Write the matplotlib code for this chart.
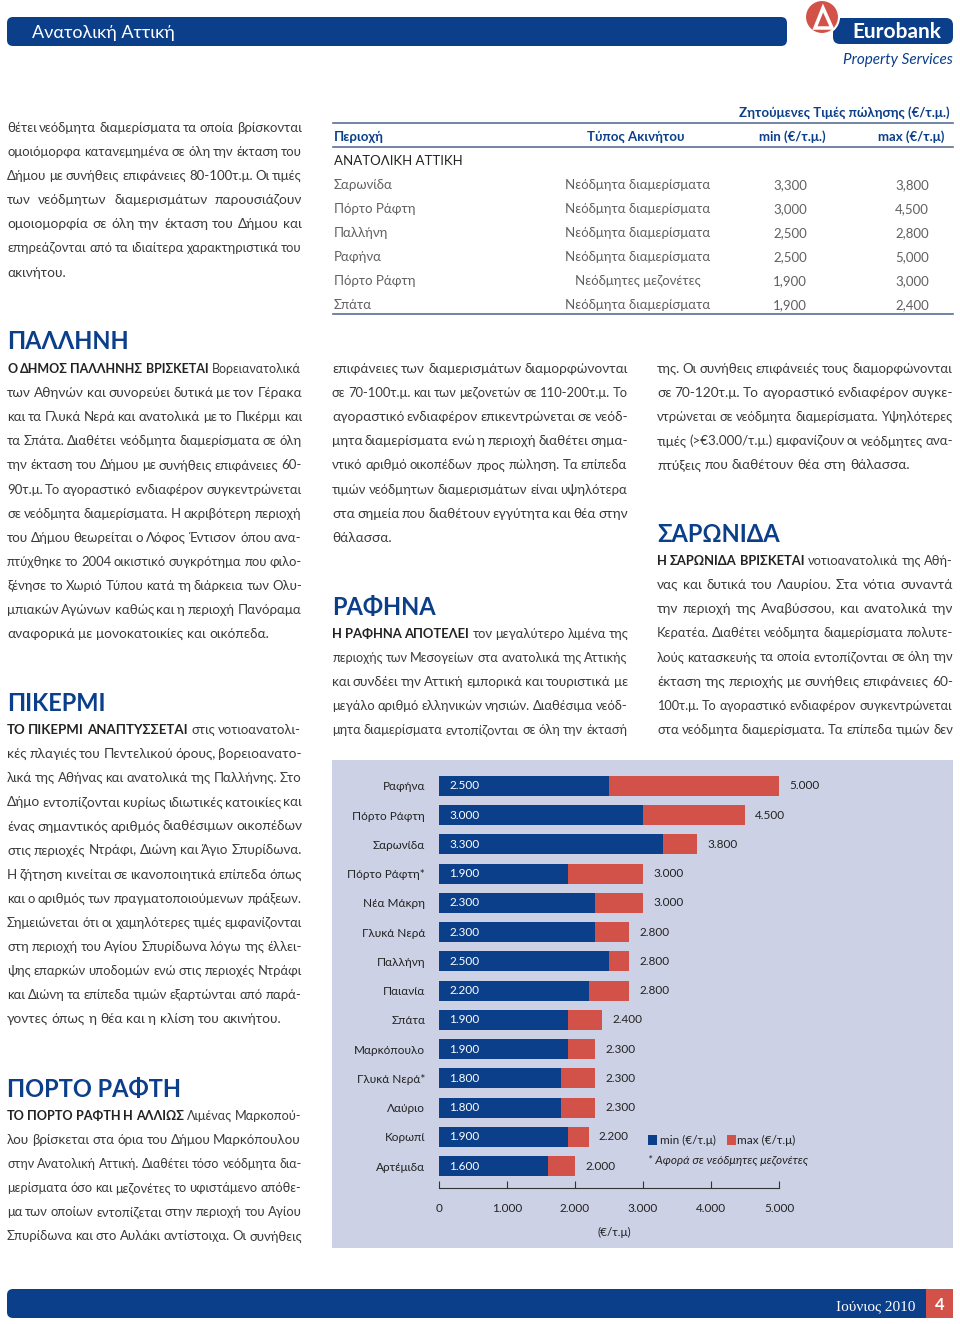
import matplotlib
matplotlib.use("Agg")
import matplotlib.pyplot as plt
from matplotlib.patches import Rectangle, FancyBboxPatch, Circle, Polygon

plt.rcParams["font.family"] = ["Lato", "DejaVu Sans"]

BLUE, RED, BODY, GREY, CHART_BG = "#0b3f8a", "#d2524a", "#3a3a3a", "#606060", "#cdd1e5"
NARROW = ["Liberation Sans Narrow", "Lato", "DejaVu Sans"]

# ---- chart data (top -> bottom) ----
areas = ["Ραφήνα", "Πόρτο Ράφτη", "Σαρωνίδα", "Πόρτο Ράφτη*", "Νέα Μάκρη", "Γλυκά Νερά",
         "Παλλήνη", "Παιανία", "Σπάτα", "Μαρκόπουλο", "Γλυκά Νερά*", "Λαύριο", "Κορωπί", "Αρτέμιδα"]
min_price = [2500, 3000, 3300, 1900, 2300, 2300, 2500, 2200, 1900, 1900, 1800, 1800, 1900, 1600]
max_price = [5000, 4500, 3800, 3000, 3000, 2800, 2800, 2800, 2400, 2300, 2300, 2300, 2200, 2000]
xticks = [0, 1000, 2000, 3000, 4000, 5000]

# ---- table data ----
tab_area = ["Σαρωνίδα", "Πόρτο Ράφτη", "Παλλήνη", "Ραφήνα", "Πόρτο Ράφτη", "Σπάτα"]
tab_type = ["Νεόδμητα διαμερίσματα"] * 4 + ["Νεόδμητες μεζονέτες", "Νεόδμητα διαμερίσματα"]
tab_min = ["3,300", "3,000", "2,500", "2,500", "1,900", "1,900"]
tab_max = ["3,800", "4,500", "2,800", "5,000", "3,000", "2,400"]

# ---- text ----
intro = ["θέτει νεόδμητα διαμερίσματα τα οποία βρίσκονται",
         "ομοιόμορφα κατανεμημένα σε όλη την έκταση του",
         "Δήμου με συνήθεις επιφάνειες 80-100τ.μ. Οι τιμές",
         "των νεόδμητων διαμερισμάτων παρουσιάζουν",
         "ομοιομορφία σε όλη την έκταση του Δήμου και",
         "επηρεάζονται από τα ιδιαίτερα χαρακτηριστικά του",
         "ακινήτου."]
pallini = ["Ο ΔΗΜΟΣ ΠΑΛΛΗΝΗΣ ΒΡΙΣΚΕΤΑΙ Βορειανατολικά",
           "των Αθηνών και συνορεύει δυτικά με τον Γέρακα",
           "και τα Γλυκά Νερά και ανατολικά με το Πικέρμι και",
           "τα Σπάτα. Διαθέτει νεόδμητα διαμερίσματα σε όλη",
           "την έκταση του Δήμου με συνήθεις επιφάνειες 60-",
           "90τ.μ. Το αγοραστικό ενδιαφέρον συγκεντρώνεται",
           "σε νεόδμητα διαμερίσματα. Η ακριβότερη περιοχή",
           "του Δήμου θεωρείται ο Λόφος Έντισον όπου ανα-",
           "πτύχθηκε το 2004 οικιστικό συγκρότημα που φιλο-",
           "ξένησε το Χωριό Τύπου κατά τη διάρκεια των Ολυ-",
           "μπιακών Αγώνων καθώς και η περιοχή Πανόραμα",
           "αναφορικά με μονοκατοικίες και οικόπεδα."]
pikermi = ["ΤΟ ΠΙΚΕΡΜΙ ΑΝΑΠΤΥΣΣΕΤΑΙ στις νοτιοανατολι-",
           "κές πλαγιές του Πεντελικού όρους, βορειοανατο-",
           "λικά της Αθήνας και ανατολικά της Παλλήνης. Στο",
           "Δήμο εντοπίζονται κυρίως ιδιωτικές κατοικίες και",
           "ένας σημαντικός αριθμός διαθέσιμων οικοπέδων",
           "στις περιοχές Ντράφι, Διώνη και Άγιο Σπυρίδωνα.",
           "Η ζήτηση κινείται σε ικανοποιητικά επίπεδα όπως",
           "και ο αριθμός των πραγματοποιούμενων πράξεων.",
           "Σημειώνεται ότι οι χαμηλότερες τιμές εμφανίζονται",
           "στη περιοχή του Αγίου Σπυρίδωνα λόγω της έλλει-",
           "ψης επαρκών υποδομών ενώ στις περιοχές Ντράφι",
           "και Διώνη τα επίπεδα τιμών εξαρτώνται από παρά-",
           "γοντες όπως η θέα και η κλίση του ακινήτου."]
porto = ["ΤΟ ΠΟΡΤΟ ΡΑΦΤΗ Η ΑΛΛΙΩΣ Λιμένας Μαρκοπού-",
         "λου βρίσκεται στα όρια του Δήμου Μαρκόπουλου",
         "στην Ανατολική Αττική. Διαθέτει τόσο νεόδμητα δια-",
         "μερίσματα όσο και μεζονέτες το υφιστάμενο απόθε-",
         "μα των οποίων εντοπίζεται στην περιοχή του Αγίου",
         "Σπυρίδωνα και στο Αυλάκι αντίστοιχα. Οι συνήθεις"]
porto2 = ["επιφάνειες των διαμερισμάτων διαμορφώνονται",
          "σε 70-100τ.μ. και των μεζονετών σε 110-200τ.μ. Το",
          "αγοραστικό ενδιαφέρον επικεντρώνεται σε νεόδ-",
          "μητα διαμερίσματα ενώ η περιοχή διαθέτει σημα-",
          "ντικό αριθμό οικοπέδων προς πώληση. Τα επίπεδα",
          "τιμών νεόδμητων διαμερισμάτων είναι υψηλότερα",
          "στα σημεία που διαθέτουν εγγύτητα και θέα στην",
          "θάλασσα."]
rafina = ["Η ΡΑΦΗΝΑ ΑΠΟΤΕΛΕΙ τον μεγαλύτερο λιμένα της",
          "περιοχής των Μεσογείων στα ανατολικά της Αττικής",
          "και συνδέει την Αττική εμπορικά και τουριστικά με",
          "μεγάλο αριθμό ελληνικών νησιών. Διαθέσιμα νεόδ-",
          "μητα διαμερίσματα εντοπίζονται σε όλη την έκτασή"]
rafina2 = ["της. Οι συνήθεις επιφάνειές τους διαμορφώνονται",
           "σε 70-120τ.μ. Το αγοραστικό ενδιαφέρον συγκε-",
           "ντρώνεται σε νεόδμητα διαμερίσματα. Υψηλότερες",
           "τιμές (>€3.000/τ.μ.) εμφανίζουν οι νεόδμητες ανα-",
           "πτύξεις που διαθέτουν θέα στη θάλασσα."]
saronida = ["Η ΣΑΡΩΝΙΔΑ ΒΡΙΣΚΕΤΑΙ νοτιοανατολικά της Αθή-",
            "νας και δυτικά του Λαυρίου. Στα νότια συναντά",
            "την περιοχή της Αναβύσσου, και ανατολικά την",
            "Κερατέα. Διαθέτει νεόδμητα διαμερίσματα πολυτε-",
            "λούς κατασκευής τα οποία εντοπίζονται σε όλη την",
            "έκταση της περιοχής με συνήθεις επιφάνειες 60-",
            "100τ.μ. Το αγοραστικό ενδιαφέρον συγκεντρώνεται",
            "στα νεόδμητα διαμερίσματα. Τα επίπεδα τιμών δεν"]

W, H = 960, 1324
fig = plt.figure(figsize=(W / 100, H / 100), dpi=100)
bg = fig.add_axes([0, 0, 1, 1])
bg.set_xlim(0, W); bg.set_ylim(H, 0); bg.axis("off")
R = fig.canvas.get_renderer()

BS = 9.8  # body font size


def para(x0, x1, y0, lines, lead=0, justify_last=False, step=24.1):
    sp = BS * 100 / 72 * 0.26
    for i, line in enumerate(lines):
        words = line.split()
        y = y0 + i * step + 5
        arts = []
        for j, w in enumerate(words):
            b = i == 0 and j < lead
            arts.append(bg.text(0, y, w, fontsize=BS, va="baseline",
                                color="#222222" if b else BODY, fontweight="bold" if b else "normal"))
        ws = [a.get_window_extent(R).width for a in arts]
        last = i == len(lines) - 1
        if (last and not justify_last) or len(words) < 2:
            gap = sp
        else:
            gap = (x1 - x0 - sum(ws)) / (len(words) - 1)
            if gap < sp * 0.7:  # too long: shrink the words a little
                k = (x1 - x0 - sp * 0.7 * (len(words) - 1)) / sum(ws)
                for a in arts:
                    a.set_fontsize(BS * k)
                ws = [w * k for w in ws]
                gap = sp * 0.7
        x = x0
        for a, w in zip(arts, ws):
            a.set_x(x); x += w + gap


def heading(x, y, s):
    bg.text(x, y + 9, s, fontsize=17, fontweight="bold", color=BLUE, va="baseline")


# ---- header ----
bg.add_patch(FancyBboxPatch((7, 17), 780, 29, boxstyle="round,pad=0,rounding_size=6", fc=BLUE, ec="none"))
bg.text(32, 38, "Ανατολική Αττική", fontsize=13, color="white", va="baseline", family=NARROW)
bg.add_patch(FancyBboxPatch((833, 18), 120, 26, boxstyle="round,pad=0,rounding_size=7", fc=BLUE, ec="none"))
bg.text(897, 38, "Eurobank", fontsize=15, fontweight="bold", color="white", ha="center", va="baseline")
bg.add_patch(Circle((822, 17), 17, fc=RED, ec="white", lw=1.5, zorder=3))
bg.add_patch(Polygon([(815, 28), (823, 8), (832, 28)], closed=True, fc="none", ec="white", lw=2.5, zorder=4))
bg.text(953, 64, "Property Services", fontsize=11, style="italic", color=BLUE, ha="right", va="baseline", family=NARROW)

# ---- left column ----
para(7, 302, 127, intro)
heading(7, 340, "ΠΑΛΛΗΝΗ")
para(7, 302, 368, pallini, lead=4)
heading(7, 702, "ΠΙΚΕΡΜΙ")
para(7, 302, 729, pikermi, lead=3)
heading(7, 1088, "ΠΟΡΤΟ ΡΑΦΤΗ")
para(7, 302, 1115, porto, lead=5, justify_last=True)

# ---- middle column ----
para(332, 628, 368, porto2)
heading(332, 606, "ΡΑΦΗΝΑ")
para(332, 628, 633, rafina, lead=3, justify_last=True)

# ---- right column ----
para(657, 953, 368, rafina2)
heading(657, 533, "ΣΑΡΩΝΙΔΑ")
para(657, 953, 560, saronida, lead=3, justify_last=True)

# ---- table ----
TS = 9.5
bg.text(950, 117, "Ζητούμενες Τιμές πώλησης (€/τ.μ.)", fontsize=TS, fontweight="bold", color=BLUE, ha="right", va="baseline")
for yy in (123, 147, 314):
    bg.plot([333, 953], [yy, yy], color="#5a6f95", lw=1.2)
bg.text(334, 141, "Περιοχή", fontsize=TS, fontweight="bold", color=BLUE, va="baseline")
bg.text(636, 141, "Τύπος Ακινήτου", fontsize=TS, fontweight="bold", color=BLUE, ha="center", va="baseline")
bg.text(792, 141, "min (€/τ.μ.)", fontsize=TS, fontweight="bold", color=BLUE, ha="center", va="baseline")
bg.text(911, 141, "max (€/τ.μ)", fontsize=TS, fontweight="bold", color=BLUE, ha="center", va="baseline")
bg.text(334, 165, "ΑΝΑΤΟΛΙΚΗ ΑΤΤΙΚΗ", fontsize=TS, color="#222222", va="baseline")
for i, (a, t, lo, hi) in enumerate(zip(tab_area, tab_type, tab_min, tab_max)):
    y = 189 + 24 * i
    bg.text(334, y, a, fontsize=TS, color=GREY, va="baseline")
    bg.text(638, y, t, fontsize=TS, color=GREY, ha="center", va="baseline")
    bg.text(807, y, lo, fontsize=TS, color=GREY, ha="right", va="baseline")
    bg.text(929, y, hi, fontsize=TS, color=GREY, ha="right", va="baseline")

# ---- chart ----
bg.add_patch(Rectangle((332, 760), 621, 488, fc=CHART_BG, ec="none"))
ax = fig.add_axes([439 / W, 1 - 1188 / H, 340 / W, 417 / H])
ax.patch.set_visible(False)
pos = list(range(len(areas)))
ax.barh(pos, [hi - lo for lo, hi in zip(min_price, max_price)], left=min_price, height=0.68, color=RED)
ax.barh(pos, min_price, height=0.68, color=BLUE)
ax.set_xlim(0, 5000)
ax.set_ylim(len(areas) - 0.25, -0.51)
for s in ("top", "right", "left"):
    ax.spines[s].set_visible(False)
ax.spines["bottom"].set_color("#333333"); ax.spines["bottom"].set_linewidth(0.8)
ax.set_xticks(xticks)
ax.set_xticklabels([f"{v:,}".replace(",", ".") for v in xticks], fontsize=8.5, color="#222222", family=NARROW)
ax.tick_params(axis="x", direction="in", length=5, pad=11, color="#333333")
ax.set_yticks(pos)
ax.set_yticklabels(areas, fontsize=8.5, color="#222222", family=NARROW)
ax.tick_params(axis="y", length=0, pad=10)
for p, lo, hi in zip(pos, min_price, max_price):
    ax.text(150, p, f"{lo:,}".replace(",", "."), color="white", fontsize=8.5, va="center", family=NARROW)
    ax.text(hi + 150, p, f"{hi:,}".replace(",", "."), color="#222222", fontsize=8.5, va="center", family=NARROW)
bg.text(614, 1236, "(€/τ.μ)", fontsize=8.5, color="#222222", ha="center", va="baseline", family=NARROW)
bg.add_patch(Rectangle((648, 1135), 9, 10, fc=BLUE, ec="none"))
bg.text(660, 1144, "min (€/τ.μ)", fontsize=8.5, color="#222222", va="baseline", family=NARROW)
bg.add_patch(Rectangle((727, 1135), 9, 10, fc=RED, ec="none"))
bg.text(737, 1144, "max (€/τ.μ)", fontsize=8.5, color="#222222", va="baseline", family=NARROW)
bg.text(648, 1164, "* Αφορά σε νεόδμητες μεζονέτες", fontsize=8.5, style="italic", color="#222222", va="baseline", family=NARROW)

# ---- footer ----
bg.add_patch(FancyBboxPatch((7, 1289), 946, 29, boxstyle="round,pad=0,rounding_size=6", fc=BLUE, ec="none"))
bg.add_patch(Rectangle((926, 1289), 27, 29, fc=RED, ec="none"))
bg.text(915, 1310, "Ιούνιος 2010", fontsize=11, color="white", ha="right", va="baseline", family=["Liberation Serif", "DejaVu Serif"])
bg.text(939.5, 1310, "4", fontsize=12, fontweight="bold", color="white", ha="center", va="baseline")

fig.savefig("out.png", dpi=100)
